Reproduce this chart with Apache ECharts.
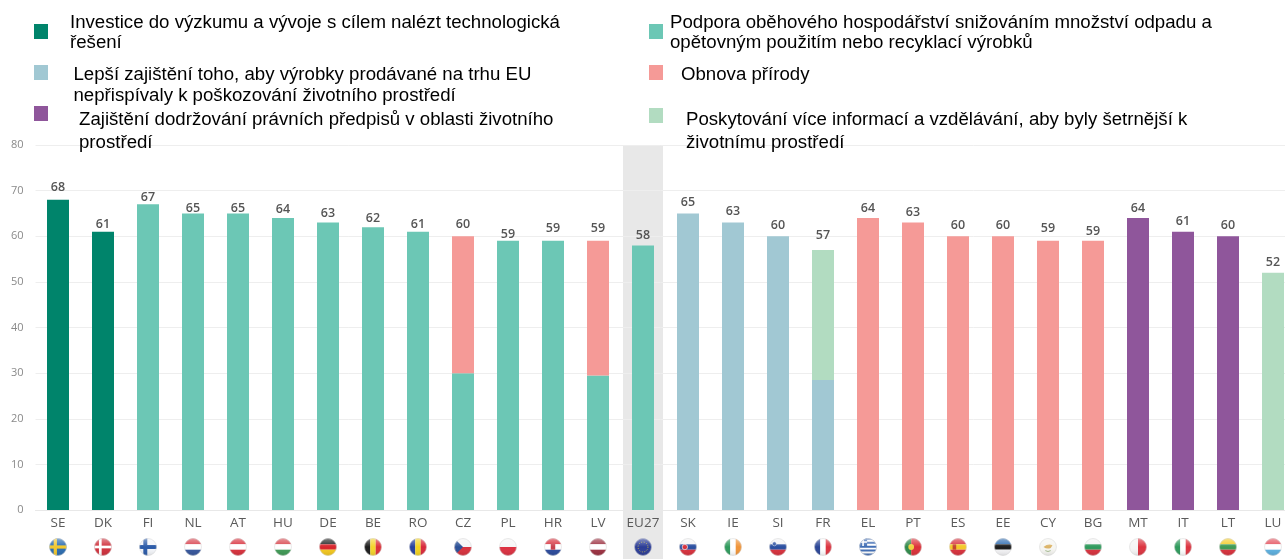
<!DOCTYPE html>
<html>
<head>
<meta charset="utf-8">
<style>html,body{margin:0;padding:0;background:#fff}#main{width:1285px;height:559px}</style>
<script src="https://cdn.jsdelivr.net/npm/echarts@6/dist/echarts.min.js"></script>
</head>
<body>
<div id="main"></div>
<script>
var categories = ['SE','DK','FI','NL','AT','HU','DE','BE','RO','CZ','PL','HR','LV','EU27','SK','IE','SI','FR','EL','PT','ES','EE','CY','BG','MT','IT','LT','LU'];
var totals   = [68,61,67,65,65,64,63,62,61,60,59,59,59,58,65,63,60,57,64,63,60,60,59,59,64,61,60,52];
var research = [68,61,null,null,null,null,null,null,null,null,null,null,null,null,null,null,null,null,null,null,null,null,null,null,null,null,null,null];
var circular = [null,null,67,65,65,64,63,62,61,30,59,59,29.5,58,null,null,null,null,null,null,null,null,null,null,null,null,null,null];
var better   = [null,null,null,null,null,null,null,null,null,null,null,null,null,null,65,63,60,28.5,null,null,null,null,null,null,null,null,null,null];
var nature   = [null,null,null,null,null,null,null,null,null,30,null,null,29.5,null,null,null,null,null,64,63,60,60,59,59,null,null,null,null];
var enforce  = [null,null,null,null,null,null,null,null,null,null,null,null,null,null,null,null,null,null,null,null,null,null,null,null,64,61,60,null];
var info     = [null,null,null,null,null,null,null,null,null,null,null,null,null,null,null,null,null,28.5,null,null,null,null,null,null,null,null,null,52];

var names = [
    'Investice do výzkumu a vývoje s cílem nalézt technologická\nřešení',
    'Podpora oběhového hospodářství snižováním množství odpadu a\nopětovným použitím nebo recyklací výrobků',
    'Lepší zajištění toho, aby výrobky prodávané na trhu EU\nnepřispívaly k poškozování životního prostředí',
    'Obnova přírody',
    'Zajištění dodržování právních předpisů v oblasti životního\nprostředí',
    'Poskytování více informací a vzdělávání, aby byly šetrnější k\nživotnímu prostředí'
];
var colors = ['#00846b','#6cc7b5','#a1c8d3','#f59a97','#8f569b','#b2dcc1'];
var seriesValues = [research, circular, better, nature, enforce, info];

// legend is hand placed in the original: swatch x/y, text x/y, line height
var legendPos = [
    [34,24,70,13,20], [649,24,670,13,20],
    [34,65,73.5,64.5,21], [649,65,681,64.5,21],
    [34,106,79,109,23], [649,108,686,109,23]
];

// the value labels sit at uneven heights above the bars
var labelGap = {SE:5,DK:0,FI:0,NL:-2,AT:-2,HU:2,DE:2,BE:2,RO:0,CZ:5,PL:-1,HR:5,LV:5,EU27:3,SK:4,IE:4,SI:4,FR:8,EL:3,PT:3,ES:4,EE:4,CY:5,BG:2,MT:3,IT:3,LT:4,LU:3};

// flags
function hs(a,b,c){return '<rect width="20" height="7" fill="'+a+'"/><rect y="7" width="20" height="6" fill="'+b+'"/><rect y="13" width="20" height="7" fill="'+c+'"/>';}
function vs(a,b,c){return '<rect width="7" height="20" fill="'+a+'"/><rect x="7" width="6" height="20" fill="'+b+'"/><rect x="13" width="7" height="20" fill="'+c+'"/>';}
function cross(bg,fg,w){return '<rect width="20" height="20" fill="'+bg+'"/><rect x="'+(7-w/2)+'" width="'+w+'" height="20" fill="'+fg+'"/><rect y="'+(10-w/2)+'" width="20" height="'+w+'" fill="'+fg+'"/>';}
var flags = {
    SE: cross('#2b6cb0','#f2c72c',3.6),
    DK: cross('#d0303c','#fff',3),
    FI: cross('#f4f6fa','#2a5aa8',4.4),
    NL: hs('#d8404c','#fff','#35559c'),
    AT: hs('#d8303c','#fff','#d8303c'),
    HU: hs('#d8444c','#fff','#3f9a55'),
    DE: hs('#222','#d8252c','#f4c81e'),
    BE: vs('#1c1c1c','#f4d52a','#dc3038'),
    RO: vs('#26409c','#f4d31e','#d8283a'),
    CZ: '<rect width="20" height="10" fill="#f4f4f6"/><rect y="10" width="20" height="10" fill="#d8303c"/><path d="M0 0L10 10L0 20Z" fill="#2a4f96"/>',
    PL: '<rect width="20" height="10" fill="#f6f6f6"/><rect y="10" width="20" height="10" fill="#dc3040"/>',
    HR: hs('#d8303c','#fff','#2a4a9c')+'<rect x="7.5" y="6" width="5" height="7" fill="#c8404c"/>',
    LV: hs('#9c3040','#fff','#9c3040'),
    EU27: '<rect width="20" height="20" fill="#2b3c96"/><circle cx="10" cy="10" r="5.5" fill="none" stroke="#d8c840" stroke-width="1" stroke-dasharray="1 1.9"/>',
    SK: hs('#f4f4f6','#2a4fa0','#d8303c')+'<circle cx="6.5" cy="10" r="3" fill="#d8303c" stroke="#fff" stroke-width=".7"/>',
    IE: vs('#2f9a5c','#fff','#f09438'),
    SI: hs('#f4f4f6','#2a4fa0','#d8303c')+'<circle cx="6" cy="6.5" r="2.2" fill="#2a4fa0" stroke="#fff" stroke-width=".5"/>',
    FR: vs('#2a4596','#fff','#dc3440'),
    EL: '<rect width="20" height="20" fill="#3f6cb4"/><path d="M0 3h20M0 7.4h20M0 11.8h20M0 16.2h20" stroke="#fff" stroke-width="2.2"/><rect width="9" height="9" fill="#3f6cb4"/><path d="M4.5 0v9M0 4.5h9" stroke="#fff" stroke-width="1.8"/>',
    PT: '<rect width="8" height="20" fill="#2f8a4a"/><rect x="8" width="12" height="20" fill="#dc3038"/><circle cx="8" cy="10" r="3.2" fill="#f0d040"/>',
    ES: hs('#d8303c','#f4c828','#d8303c')+'<rect x="4" y="7" width="4" height="6" fill="#c4442c"/>',
    EE: hs('#2f6cb0','#1c1c1c','#f4f4f6'),
    CY: '<rect width="20" height="20" fill="#f6f6f2"/><path d="M5 10q5-4 10-2l-2 3q-4 2-8-1Z" fill="#dcb468"/><path d="M7 14q3 2 6 0" stroke="#9cb484" fill="none"/>',
    BG: hs('#f4f4f4','#2f9a5c','#d8303c'),
    MT: '<rect width="10" height="20" fill="#f6f6f6"/><rect x="10" width="10" height="20" fill="#dc3440"/>',
    IT: vs('#2f9a5c','#fff','#dc3440'),
    LT: hs('#f4cc28','#3f9a55','#d8303c'),
    LU: hs('#e4505c','#fff','#5cb0e0')
};
function flagUrl(code){
    var svg = '<svg xmlns="http://www.w3.org/2000/svg" width="18" height="18" viewBox="0 0 20 20">'
        + '<defs><clipPath id="c"><circle cx="10" cy="10" r="9.6"/></clipPath>'
        + '<linearGradient id="g" x1="0" y1="0" x2="0" y2="1"><stop offset="0" stop-color="#fff" stop-opacity=".45"/><stop offset=".5" stop-color="#fff" stop-opacity="0"/><stop offset="1" stop-color="#000" stop-opacity=".12"/></linearGradient></defs>'
        + '<g clip-path="url(#c)">' + flags[code] + '<rect width="20" height="20" fill="url(#g)"/></g>'
        + '<circle cx="10" cy="10" r="9.4" fill="none" stroke="#d8d8d8" stroke-width=".6"/></svg>';
    return 'data:image/svg+xml;charset=utf-8,' + encodeURIComponent(svg);
}

var richStyles = {code: {fontFamily: 'Open Sans', fontSize: 13.5, color: '#5a5a5a', height: 18, lineHeight: 18, padding: [0,0,11,0]}};
categories.forEach(function (c) {
    richStyles['f' + c.replace('27','')] = {width: 18, height: 18, backgroundColor: {image: flagUrl(c)}};
});

var series = names.map(function (name, i) {
    return {
        name: name,
        type: 'bar',
        stack: 'all',
        barWidth: 22,
        itemStyle: {color: colors[i]},
        data: seriesValues[i]
    };
});
series.push({
    name: 'total',
    type: 'line',
    symbol: 'circle',
    symbolSize: 1,
    itemStyle: {color: 'transparent'},
    lineStyle: {opacity: 0},
    z: 5,
    data: totals.map(function (v, i) {
        return {
            value: v,
            label: {show: true, position: 'top', distance: labelGap[categories[i]], formatter: '{c}',
                fontFamily: 'Open Sans', fontSize: 12.5, fontWeight: 600, color: '#555'}
        };
    })
});

var myChart = echarts.init(document.getElementById('main'));
myChart.setOption({
    animation: false,
    tooltip: {show: false},
    // last band runs off the right edge of the picture
    grid: {left: 35.5, top: 145, bottom: 49, width: 1260, outerBoundsMode: 'none'},
    xAxis: {
        type: 'category',
        data: categories,
        axisTick: {show: false},
        axisLine: {lineStyle: {color: '#e8e8e8'}},
        axisLabel: {
            interval: 0,
            margin: 10,
            hideOverlap: false,
            formatter: function (v) { return '{code|' + v + '}\n{f' + v.replace('27','') + '|}'; },
            rich: richStyles
        }
    },
    yAxis: {
        type: 'value',
        min: 0,
        max: 80,
        interval: 10,
        axisLine: {show: false},
        axisTick: {show: false},
        axisLabel: {color: '#8a8a8a', fontFamily: 'Open Sans', fontSize: 11, margin: 12},
        splitLine: {lineStyle: {color: '#eeeeee'}}
    },
    series: series
});

// grey EU27 column and the legend go on top of the laid out chart
var euX = myChart.convertToPixel({xAxisIndex: 0}, 'EU27');
var topY = myChart.convertToPixel({yAxisIndex: 0}, 80);
var graphics = [{
    type: 'rect', z: -1, silent: true,
    shape: {x: euX - 20, y: topY, width: 40, height: 559 - topY},
    style: {fill: '#e8e8e8'}
}];
names.forEach(function (name, i) {
    var p = legendPos[i];
    graphics.push({type: 'rect', shape: {x: p[0], y: p[1], width: 14, height: 15}, style: {fill: colors[i]}});
    // original text is stretched sideways a little
    graphics.push({type: 'text', x: p[2], y: p[3], scaleX: 1.065, style: {text: name, fill: '#000', font: '17.5px "Liberation Sans"', lineHeight: p[4]}});
});
myChart.setOption({graphic: graphics});
</script>
</body>
</html>
